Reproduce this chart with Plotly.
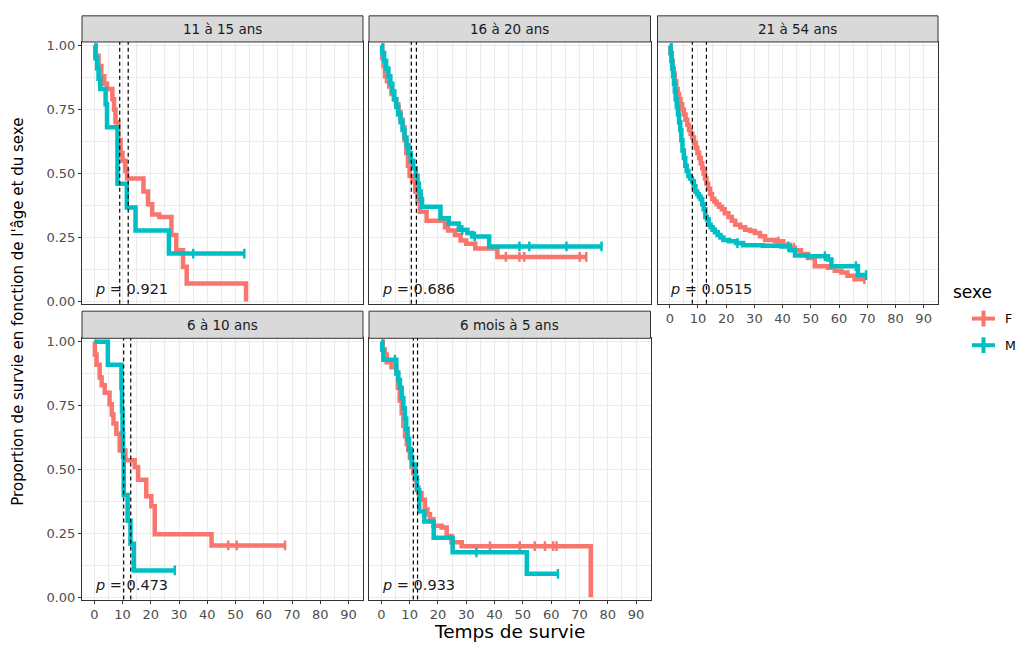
import plotly.graph_objects as go

# ---------------- data ----------------
PANELS = ["11 à 15 ans", "16 à 20 ans", "21 à 54 ans", "6 à 10 ans", "6 mois à 5 ans"]
PVALUES = ["0.921", "0.686", "0.0515", "0.473", "0.933"]
SEXES = ["F", "M"]

# 11 à 15 ans
T_11_15_F = [0, 0.5, 1.5, 2.5, 3.5, 4.5, 6.4, 7.0, 7.5, 8.5, 9.3, 10.0, 11.0, 11.6, 17.4, 19.0, 20.5, 23.0, 27.3, 29.0, 31.4, 32.7, 53.7]
S_11_15_F = [1, 0.96, 0.92, 0.88, 0.85, 0.83, 0.79, 0.75, 0.70, 0.63, 0.58, 0.55, 0.51, 0.48, 0.43, 0.38, 0.34, 0.33, 0.26, 0.20, 0.136, 0.07, 0.0]
END_11_15_F = 53.7
CENS_11_15_F = []
T_11_15_M = [0, 0.4, 1.0, 1.5, 2.1, 4.0, 4.5, 8.2, 11.5, 14.6, 26.4]
S_11_15_M = [1, 0.95, 0.91, 0.87, 0.83, 0.77, 0.68, 0.46, 0.367, 0.277, 0.187]
END_11_15_M = 53.1
CENS_11_15_M = [35.0, 53.1]
VLINES_11_15 = [9.0, 12.0]

# 16 à 20 ans
T_16_20_F = [0, 0.3, 0.8, 1.3, 2.0, 2.8, 3.6, 4.4, 5.2, 6.0, 6.8, 7.6, 8.2, 8.8, 9.4, 10.0, 11.0, 12.0, 12.8, 13.6, 16.0, 22.5, 23.6, 26.0, 28.0, 30.0, 33.2, 41.0]
S_16_20_F = [1, 0.95, 0.92, 0.88, 0.86, 0.84, 0.81, 0.79, 0.77, 0.74, 0.71, 0.68, 0.63, 0.58, 0.53, 0.49, 0.47, 0.43, 0.39, 0.35, 0.315, 0.29, 0.277, 0.26, 0.238, 0.225, 0.207, 0.174]
END_16_20_F = 72.4
CENS_16_20_F = [44.0, 48.8, 50.5, 70.1, 72.4]
T_16_20_M = [0, 0.3, 1.0, 1.7, 2.5, 3.2, 3.9, 4.6, 5.3, 6.0, 6.8, 7.5, 8.2, 8.9, 9.6, 10.4, 11.3, 12.2, 12.8, 13.3, 13.9, 14.4, 20.9, 23.8, 27.4, 30.4, 32.1, 38.1]
S_16_20_M = [1, 0.97, 0.94, 0.91, 0.88, 0.85, 0.82, 0.79, 0.76, 0.73, 0.70, 0.67, 0.64, 0.61, 0.58, 0.55, 0.52, 0.49, 0.46, 0.43, 0.40, 0.37, 0.325, 0.305, 0.28, 0.267, 0.254, 0.215]
END_16_20_M = 77.8
CENS_16_20_M = [28.6, 33.0, 48.8, 52.3, 65.4, 77.8]
VLINES_16_20 = [10.6, 12.4]

# 21 à 54 ans
T_21_54_F = [0, 0.3, 0.7, 1.0, 1.4, 1.8, 2.3, 2.8, 3.3, 3.8, 4.4, 5.0, 5.6, 6.2, 6.8, 7.4, 8.0, 8.6, 9.2, 9.8,
             10.4, 11.0, 11.5, 12.0, 12.5, 13.0, 13.6, 14.3, 15.0, 15.8, 16.6, 17.5, 18.5, 19.5, 20.8, 22.0, 23.2, 25.0, 26.7, 28.5,
             30.2, 32.0, 33.8, 37.3, 40.2, 42.5, 44.4, 46.5, 49.0, 51.4, 56.1, 58.5, 60.8, 63.0, 65.5]
S_21_54_F = [1, 0.97, 0.94, 0.91, 0.89, 0.86, 0.83, 0.81, 0.79, 0.77, 0.75, 0.73, 0.71, 0.69, 0.67, 0.655, 0.64, 0.62, 0.60, 0.58,
             0.56, 0.54, 0.52, 0.50, 0.48, 0.46, 0.44, 0.42, 0.40, 0.39, 0.38, 0.37, 0.36, 0.345, 0.33, 0.315, 0.30, 0.29, 0.28, 0.275,
             0.267, 0.255, 0.24, 0.235, 0.222, 0.21, 0.20, 0.185, 0.17, 0.138, 0.132, 0.12, 0.113, 0.10, 0.087]
END_21_54_F = 69.0
CENS_21_54_F = [38.5, 44.0, 69.0]
T_21_54_M = [0, 0.3, 0.6, 0.9, 1.2, 1.5, 1.8, 2.1, 2.5, 2.9, 3.3, 3.7, 4.1, 4.5, 5.0, 5.5, 6.0, 6.6, 7.2, 7.9,
             8.5, 9.1, 9.7, 10.3, 10.9, 11.5, 12.0, 12.6, 13.2, 13.8, 14.5, 15.2, 16.0, 17.0, 18.0, 19.0, 21.0, 23.5, 26.0, 33.0,
             39.6, 42.6, 44.4, 49.0, 56.1, 57.3, 66.7]
S_21_54_M = [1, 0.97, 0.94, 0.91, 0.88, 0.85, 0.82, 0.79, 0.76, 0.73, 0.70, 0.67, 0.63, 0.59, 0.56, 0.53, 0.51, 0.49, 0.48, 0.47,
             0.45, 0.43, 0.42, 0.41, 0.40, 0.38, 0.36, 0.33, 0.32, 0.30, 0.29, 0.28, 0.27, 0.26, 0.25, 0.24, 0.235, 0.228, 0.22, 0.218,
             0.215, 0.20, 0.18, 0.177, 0.164, 0.138, 0.103]
END_21_54_M = 69.6
CENS_21_54_M = [24.0, 42.0, 55.0, 66.0, 69.6]
VLINES_21_54 = [8.0, 13.0]

# 6 à 10 ans
T_6_10_F = [0, 0.2, 0.8, 1.9, 2.6, 3.7, 5.4, 6.2, 6.8, 7.8, 9.0, 11.0, 14.3, 15.5, 18.4, 20.2, 21.4, 41.5]
S_6_10_F = [1, 0.95, 0.91, 0.86, 0.83, 0.80, 0.755, 0.715, 0.68, 0.64, 0.574, 0.536, 0.51, 0.46, 0.395, 0.356, 0.247, 0.203]
END_6_10_F = 67.5
CENS_6_10_F = [47.4, 50.4, 67.5]
T_6_10_M = [0, 4.8, 9.6, 9.8, 10.0, 10.2, 10.4, 11.8, 12.8, 14.0]
S_6_10_M = [1, 0.91, 0.82, 0.73, 0.64, 0.55, 0.40, 0.30, 0.21, 0.105]
END_6_10_M = 28.5
CENS_6_10_M = [28.5]
VLINES_6_10 = [10.4, 12.9]

# 6 mois à 5 ans
T_6m_5_F = [0, 0.5, 1.2, 1.9, 3.6, 5.3, 5.9, 6.5, 7.2, 7.8, 8.4, 9.0, 9.5, 10.1, 10.7, 11.3, 11.9, 12.5, 13.1, 14.2,
            15.4, 16.3, 17.2, 18.4, 21.3, 23.1, 24.8, 28.4, 74.0]
S_6m_5_F = [1, 0.97, 0.95, 0.92, 0.90, 0.875, 0.82, 0.77, 0.72, 0.67, 0.63, 0.60, 0.575, 0.545, 0.51, 0.485, 0.46, 0.43, 0.408, 0.382,
            0.344, 0.325, 0.305, 0.28, 0.273, 0.24, 0.215, 0.20, 0.0]
END_6m_5_F = 74.0
CENS_6m_5_F = [38.4, 48.9, 54.2, 57.8, 60.7, 61.9]
T_6m_5_M = [0, 0.3, 0.7, 5.3, 6.0, 6.6, 7.2, 7.8, 8.3, 8.8, 9.3, 9.8, 10.4, 10.9, 12.0, 12.6, 13.4, 15.2, 18.5, 25.2, 51.4]
S_6m_5_M = [1, 0.97, 0.93, 0.88, 0.85, 0.82, 0.78, 0.74, 0.70, 0.66, 0.62, 0.58, 0.55, 0.52, 0.47, 0.42, 0.336, 0.297, 0.233, 0.176, 0.092]
END_6m_5_M = 62.4
CENS_6m_5_M = [4.8, 33.6, 62.4]
VLINES_6m_5 = [11.3, 12.8]

SERIES = {
    "11 à 15 ans": {"F": (T_11_15_F, S_11_15_F, END_11_15_F, CENS_11_15_F),
                    "M": (T_11_15_M, S_11_15_M, END_11_15_M, CENS_11_15_M)},
    "16 à 20 ans": {"F": (T_16_20_F, S_16_20_F, END_16_20_F, CENS_16_20_F),
                    "M": (T_16_20_M, S_16_20_M, END_16_20_M, CENS_16_20_M)},
    "21 à 54 ans": {"F": (T_21_54_F, S_21_54_F, END_21_54_F, CENS_21_54_F),
                    "M": (T_21_54_M, S_21_54_M, END_21_54_M, CENS_21_54_M)},
    "6 à 10 ans": {"F": (T_6_10_F, S_6_10_F, END_6_10_F, CENS_6_10_F),
                   "M": (T_6_10_M, S_6_10_M, END_6_10_M, CENS_6_10_M)},
    "6 mois à 5 ans": {"F": (T_6m_5_F, S_6m_5_F, END_6m_5_F, CENS_6m_5_F),
                       "M": (T_6m_5_M, S_6m_5_M, END_6m_5_M, CENS_6m_5_M)},
}
VLINES = [VLINES_11_15, VLINES_16_20, VLINES_21_54, VLINES_6_10, VLINES_6m_5]

# ---------------- style / layout ----------------
COLORS = {"F": "#F8766D", "M": "#00BFC4"}
FONT = "DejaVu Sans, Verdana, sans-serif"
W, H = 1019, 648


def px(x):
    return x / W


def py(y):
    return 1 - y / H


COL_PX = [(82, 363), (369, 650.5), (657.5, 938)]
ROW_PLOT_PX = [(38.5, 304), (339, 604)]
ROW_STRIP_PX = [(12, 38.5), (311.5, 339)]
GRID = [(0, 0), (0, 1), (0, 2), (1, 0), (1, 1)]
X_RANGE = [-4.35, 95.1]
Y_RANGE = [-0.009, 1.0135]
SHOW_X_LABELS = [False, False, True, True, True]
SHOW_Y_LABELS = [True, False, False, True, False]


def surv_at(ts, ss, c):
    v = ss[0]
    for t, s in zip(ts, ss):
        if t <= c:
            v = s
    return v


fig = go.Figure()
shapes = []
annotations = []
layout = {}

for i, panel in enumerate(PANELS):
    k = i + 1
    xa = "x" if k == 1 else f"x{k}"
    ya = "y" if k == 1 else f"y{k}"
    r, c = GRID[i]
    x0p, x1p = COL_PX[c]
    y0p, y1p = ROW_PLOT_PX[r]

    for sex in SEXES:
        ts, ss, end, cens = SERIES[panel][sex]
        xs = list(ts)
        ys = list(ss)
        if end > ts[-1]:
            xs.append(end)
            ys.append(ss[-1])
        fig.add_trace(go.Scatter(x=xs, y=ys, mode="lines", xaxis=xa, yaxis=ya,
                                 line=dict(color=COLORS[sex], width=4.5, shape="hv"),
                                 hoverinfo="skip", showlegend=False))
        if cens:
            fig.add_trace(go.Scatter(x=cens, y=[surv_at(ts, ss, cc) for cc in cens], mode="markers",
                                     xaxis=xa, yaxis=ya,
                                     marker=dict(symbol="line-ns", size=7,
                                                 line=dict(color=COLORS[sex], width=2.5)),
                                     hoverinfo="skip", showlegend=False))

    axcommon = dict(showline=True, mirror=True, linecolor="#333333", linewidth=1,
                    zeroline=False, showgrid=True, gridcolor="#EBEBEB", gridwidth=1.1,
                    tickcolor="#333333", ticklen=3, tickwidth=1,
                    tickfont=dict(family=FONT, size=13, color="#4D4D4D"))
    layout["xaxis" if k == 1 else f"xaxis{k}"] = dict(
        axcommon, domain=[px(x0p), px(x1p)], range=X_RANGE, anchor=ya,
        tickmode="linear", tick0=0, dtick=10,
        showticklabels=SHOW_X_LABELS[i], ticks="outside" if SHOW_X_LABELS[i] else "",
        minor=dict(tickmode="linear", tick0=0, dtick=5, showgrid=True, gridcolor="#EBEBEB", gridwidth=0.6))
    layout["yaxis" if k == 1 else f"yaxis{k}"] = dict(
        axcommon, domain=[py(y1p), py(y0p)], range=Y_RANGE, anchor=xa,
        tickmode="linear", tick0=0, dtick=0.25, tickformat=".2f",
        showticklabels=SHOW_Y_LABELS[i], ticks="outside" if SHOW_Y_LABELS[i] else "",
        minor=dict(tickmode="linear", tick0=0, dtick=0.125, showgrid=True, gridcolor="#EBEBEB", gridwidth=0.6))

    # strip header
    s0, s1 = ROW_STRIP_PX[r]
    shapes.append(dict(type="rect", xref="paper", yref="paper", x0=px(x0p), x1=px(x1p),
                       y0=py(s1), y1=py(s0), fillcolor="#D9D9D9",
                       line=dict(color="#333333", width=1), layer="above"))
    annotations.append(dict(xref="paper", yref="paper", x=px((x0p + x1p) / 2), y=py((s0 + s1) / 2),
                            text=panel, showarrow=False, xanchor="center", yanchor="middle",
                            font=dict(family=FONT, size=13.5, color="#1A1A1A")))

    # median dashed lines
    for v in VLINES[i]:
        shapes.append(dict(type="line", xref=xa, yref=f"{ya} domain", x0=v, x1=v, y0=0, y1=1,
                           line=dict(color="black", width=1.2, dash="4px,3px"), layer="above"))

    # p-value
    annotations.append(dict(xref=xa, yref=ya, x=-0.6, y=0.05, text=f"<i>p</i> = {PVALUES[i]}",
                            showarrow=False, xanchor="left", yanchor="middle",
                            font=dict(family=FONT, size=14.5, color="#1A1A1A")))

# axis titles
annotations.append(dict(xref="paper", yref="paper", x=px(510), y=py(636), text="Temps de survie",
                        showarrow=False, xanchor="center", yanchor="middle",
                        font=dict(family=FONT, size=18.5, color="black")))
annotations.append(dict(xref="paper", yref="paper", x=px(18), y=py(312),
                        text="Proportion de survie en fonction de l'âge et du sexe", textangle=-90,
                        showarrow=False, xanchor="center", yanchor="middle",
                        font=dict(family=FONT, size=15, color="black")))

# legend (drawn by hand)
annotations.append(dict(xref="paper", yref="paper", x=px(951), y=py(292), text="sexe",
                        showarrow=False, xanchor="left", yanchor="middle",
                        font=dict(family=FONT, size=17, color="black")))
for j, sex in enumerate(SEXES):
    yc = 319 + 27 * j
    shapes.append(dict(type="line", xref="paper", yref="paper", x0=px(972), x1=px(995),
                       y0=py(yc), y1=py(yc), line=dict(color=COLORS[sex], width=4)))
    shapes.append(dict(type="line", xref="paper", yref="paper", x0=px(983.5), x1=px(983.5),
                       y0=py(yc - 8), y1=py(yc + 8), line=dict(color=COLORS[sex], width=4)))
    annotations.append(dict(xref="paper", yref="paper", x=px(1003), y=py(yc), text=sex,
                            showarrow=False, xanchor="left", yanchor="middle",
                            font=dict(family=FONT, size=12.5, color="black")))

fig.update_layout(width=W, height=H, margin=dict(l=0, r=0, t=0, b=0),
                  paper_bgcolor="white", plot_bgcolor="white", showlegend=False,
                  shapes=shapes, annotations=annotations, **layout)

fig.write_html("out.html", config={"displayModeBar": False},
               post_script="document.body.style.margin='0';document.body.style.overflow='hidden';")
